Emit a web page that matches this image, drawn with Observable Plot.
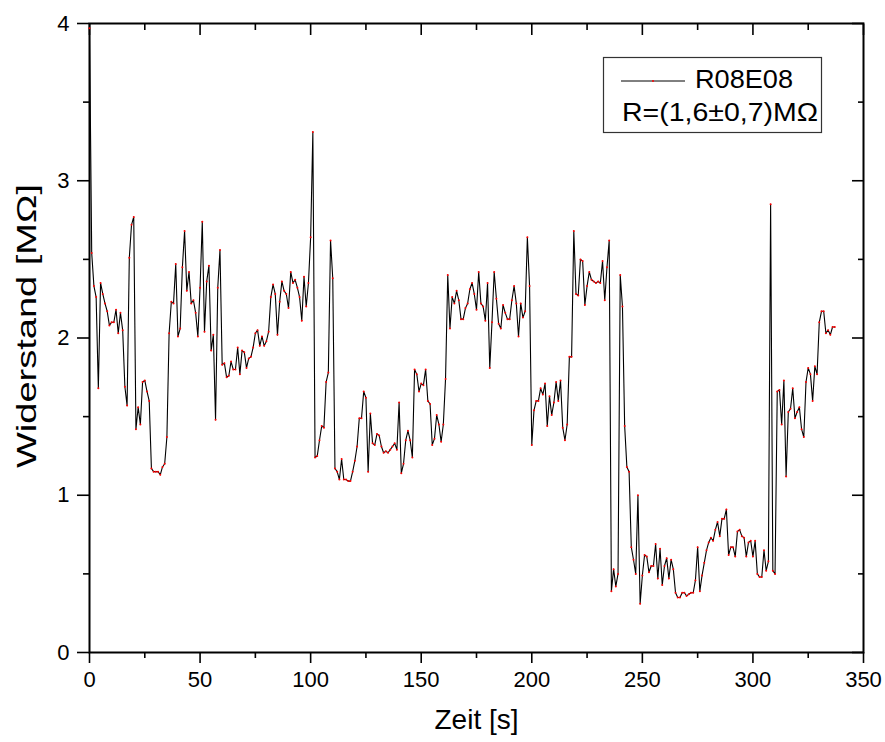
<!DOCTYPE html>
<html>
<head>
<meta charset="utf-8">
<script src="https://cdn.jsdelivr.net/npm/d3@7"></script>
<script src="https://cdn.jsdelivr.net/npm/@observablehq/plot@0.6"></script>
<style>
  html, body { margin: 0; padding: 0; background: #fff; }
  #chart svg { display: block; }
</style>
</head>
<body>
<div id="chart"></div>
<script>
// ---- data ----
const t0 = 0;          // start time [s]
const dt = 1;          // sampling interval [s]
const resistance = [
  3.97, 2.54, 2.33, 2.26, 1.68, 2.35, 2.28, 2.22, 2.17, 2.08,
  2.10, 2.10, 2.18, 2.03, 2.16, 2.05, 1.69, 1.57, 2.51, 2.72,
  2.77, 1.42, 1.56, 1.45, 1.72, 1.73, 1.66, 1.60, 1.17, 1.15,
  1.15, 1.15, 1.13, 1.18, 1.20, 1.37, 2.03, 2.23, 2.22, 2.47,
  2.01, 2.06, 2.45, 2.68, 2.30, 2.42, 2.22, 2.24, 2.16, 2.01,
  2.32, 2.74, 2.04, 2.36, 2.46, 1.92, 2.02, 1.48, 2.32, 2.56,
  1.83, 1.84, 1.75, 1.76, 1.85, 1.80, 1.80, 1.94, 1.77, 1.92,
  1.91, 1.81, 1.87, 1.88, 1.94, 2.03, 2.05, 1.95, 2.01, 1.95,
  1.98, 2.04, 2.26, 2.34, 2.28, 2.02, 2.23, 2.36, 2.30, 2.28,
  2.19, 2.42, 2.35, 2.37, 2.32, 2.26, 2.11, 2.39, 2.20, 2.35,
  2.64, 3.31, 1.24, 1.25, 1.35, 1.44, 1.43, 1.72, 1.78, 2.62,
  2.38, 1.17, 1.15, 1.10, 1.23, 1.10, 1.10, 1.09, 1.09, 1.15,
  1.22, 1.31, 1.49, 1.49, 1.66, 1.62, 1.15, 1.52, 1.33, 1.32,
  1.39, 1.38, 1.31, 1.27, 1.28, 1.27, 1.29, 1.31, 1.33, 1.29,
  1.59, 1.14, 1.20, 1.35, 1.41, 1.35, 1.24, 1.80, 1.77, 1.66,
  1.71, 1.70, 1.80, 1.60, 1.58, 1.32, 1.36, 1.51, 1.45, 1.34,
  1.45, 1.74, 2.40, 2.06, 2.26, 2.22, 2.30, 2.24, 2.12, 2.12,
  2.19, 2.22, 2.31, 2.35, 2.28, 2.18, 2.42, 2.22, 2.20, 2.11,
  2.35, 1.81, 2.10, 2.42, 2.25, 2.09, 2.06, 2.21, 2.16, 2.12,
  2.12, 2.24, 2.33, 2.22, 2.01, 2.22, 2.13, 2.17, 2.64, 2.33,
  1.32, 1.54, 1.60, 1.60, 1.68, 1.64, 1.71, 1.44, 1.63, 1.51,
  1.59, 1.72, 1.60, 1.73, 1.43, 1.35, 1.45, 1.88, 1.88, 2.68,
  2.28, 2.27, 2.50, 2.49, 2.21, 2.33, 2.42, 2.37, 2.36, 2.35,
  2.36, 2.35, 2.49, 2.24, 2.45, 2.62, 0.39, 0.53, 0.42, 0.50,
  2.40, 2.20, 1.44, 1.18, 1.15, 0.67, 0.59, 0.50, 1.00, 0.31,
  0.49, 0.62, 0.61, 0.51, 0.55, 0.55, 0.69, 0.47, 0.66, 0.43,
  0.55, 0.60, 0.47, 0.59, 0.53, 0.38, 0.35, 0.35, 0.38, 0.38,
  0.36, 0.37, 0.38, 0.38, 0.46, 0.67, 0.39, 0.49, 0.57, 0.65,
  0.70, 0.73, 0.71, 0.78, 0.83, 0.74, 0.85, 0.85, 0.91, 0.62,
  0.67, 0.67, 0.61, 0.77, 0.78, 0.74, 0.73, 0.61, 0.70, 0.71,
  0.61, 0.71, 0.50, 0.48, 0.48, 0.65, 0.52, 0.58, 2.85, 0.52,
  0.50, 1.66, 1.67, 1.45, 1.73, 1.12, 1.53, 1.55, 1.68, 1.49,
  1.53, 1.56, 1.42, 1.37, 1.72, 1.81, 1.77, 1.60, 1.82, 1.77,
  2.10, 2.17, 2.17, 2.03, 2.05, 2.02, 2.07, 2.07
];
const xTicks = [0, 50, 100, 150, 200, 250, 300, 350];
const xMinor = [25, 75, 125, 175, 225, 275, 325];
const yTicks = [0, 1, 2, 3, 4];
const yMinor = [0.5, 1.5, 2.5, 3.5];
const xLabel = "Zeit [s]";
const yLabel = "Widerstand [MΩ]";
const seriesName = "R08E08";
const resultText = "R=(1,6±0,7)MΩ";

const data = resistance.map((r, i) => ({t: t0 + i * dt, r}));

const font = "'Liberation Sans', Arial, Helvetica, sans-serif";

const chart = Plot.plot({
  width: 885,
  height: 742,
  marginLeft: 89,
  marginRight: 22,
  marginTop: 23,
  marginBottom: 90,
  style: {fontFamily: font, background: "#fff", color: "#000"},
  x: {domain: [0, 350]},
  y: {domain: [0, 4]},
  marks: [
    // bottom axis
    Plot.axisX({anchor: "bottom", ticks: xTicks, tickSize: 11, tickPadding: 8, fontSize: 22, strokeWidth: 1.6, label: null, tickFormat: d => String(d)}),
    Plot.axisX({anchor: "bottom", ticks: xMinor, tickSize: 6, strokeWidth: 1.6, fill: "none", label: null}),
    // top axis (inward)
    Plot.axisX({anchor: "top", ticks: xTicks, tickSize: -11, strokeWidth: 1.6, fill: "none", label: null}),
    Plot.axisX({anchor: "top", ticks: xMinor, tickSize: -6, strokeWidth: 1.6, fill: "none", label: null}),
    // left axis
    Plot.axisY({anchor: "left", ticks: yTicks, tickSize: 12, tickPadding: 8, fontSize: 22, strokeWidth: 1.6, label: null, tickFormat: d => String(d)}),
    Plot.axisY({anchor: "left", ticks: yMinor, tickSize: 6, strokeWidth: 1.6, fill: "none", label: null}),
    // right axis (inward)
    Plot.axisY({anchor: "right", ticks: yTicks, tickSize: -12, strokeWidth: 1.6, fill: "none", label: null}),
    Plot.axisY({anchor: "right", ticks: yMinor, tickSize: -6, strokeWidth: 1.6, fill: "none", label: null}),
    Plot.frame({stroke: "#000", strokeWidth: 2}),
    Plot.line(data, {x: "t", y: "r", stroke: "#000", strokeWidth: 1.1}),
    Plot.dot(data, {x: "t", y: "r", r: 1, fill: "#ff0000", stroke: "none"}),
    // axis titles
    Plot.text([xLabel], {text: d => d, frameAnchor: "bottom", textAnchor: "middle", dy: 68, fontSize: 28, lineAnchor: "middle"}),
    Plot.text([yLabel], {text: d => d, frameAnchor: "left", textAnchor: "middle", dx: -62, dy: -12, rotate: -90, fontSize: 28, lineAnchor: "middle"})
  ]
});

document.getElementById("chart").appendChild(chart);

const svg = d3.select(chart);
// stretch the y title like the original export
svg.selectAll("text").filter(function () { return this.textContent === yLabel; })
  .attr("textLength", 284).attr("lengthAdjust", "spacingAndGlyphs");

// legend box (inside the plot, upper right)
const lg = svg.append("g").attr("font-family", font).attr("text-anchor", "start");
lg.append("rect")
  .attr("x", 603.5).attr("y", 57.5).attr("width", 218).attr("height", 75)
  .attr("fill", "#fff").attr("stroke", "#333").attr("stroke-width", 1.2);
lg.append("line")
  .attr("x1", 621).attr("x2", 685).attr("y1", 81).attr("y2", 81)
  .attr("stroke", "#000").attr("stroke-width", 1);
lg.append("circle").attr("cx", 653).attr("cy", 81).attr("r", 1).attr("fill", "#ff0000");
lg.append("text").attr("x", 695).attr("y", 88).attr("font-size", 25)
  .attr("textLength", 98).attr("lengthAdjust", "spacingAndGlyphs").text(seriesName);
lg.append("text").attr("x", 622).attr("y", 121).attr("font-size", 25)
  .attr("textLength", 196).attr("lengthAdjust", "spacingAndGlyphs").text(resultText);
</script>
</body>
</html>
